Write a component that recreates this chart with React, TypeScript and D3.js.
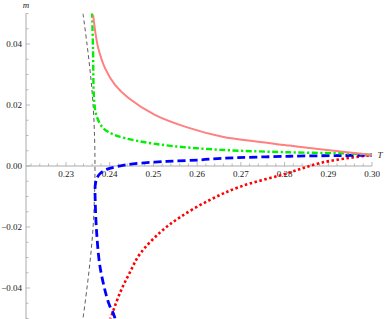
import React from "react";
import * as d3 from "d3";

// values: [T, m]
const solidRed: [number, number][] = [
  [0.23622, 0.0495], [0.23675, 0.0435], [0.23737, 0.0387], [0.23892, 0.0321], [0.24122, 0.0266],
  [0.24429, 0.0223], [0.25044, 0.0167], [0.25811, 0.0125], [0.26578, 0.0096],
  [0.27348, 0.008], [0.28115, 0.0067], [0.28922, 0.0053], [0.3, 0.0036]
];
const dashDotGreen: [number, number][] = [
  [0.23595, 0.0505], [0.23618, 0.0387], [0.23641, 0.0223], [0.23693, 0.0167],
  [0.23846, 0.0125], [0.24114, 0.0102], [0.24647, 0.0082], [0.25402, 0.0066],
  [0.26546, 0.0053], [0.28079, 0.0045], [0.29651, 0.004], [0.3, 0.0036]
];
const dashedBlue: [number, number][] = [
  [0.24121, -0.05], [0.24082, -0.0483], [0.24007, -0.0461], [0.23931, -0.0429],
  [0.23778, -0.033], [0.23702, -0.022], [0.23668, -0.0111], [0.23668, -0.0065],
  [0.23702, -0.0042], [0.23778, -0.0025], [0.23931, -0.0011], [0.2416, -0.0002],
  [0.24533, 0.0007], [0.25304, 0.0015], [0.26066, 0.002], [0.26554, 0.0025],
  [0.28125, 0.0032], [0.29651, 0.0035], [0.3, 0.0036]
];
const dottedRed: [number, number][] = [
  [0.24007, -0.0505], [0.24235, -0.0416], [0.24464, -0.0348], [0.24693, -0.0288],
  [0.25151, -0.0218], [0.25608, -0.0168], [0.26294, -0.0111], [0.26981, -0.0068],
  [0.2801, -0.0026], [0.2888, 0.0012], [0.3, 0.0036]
];
const blackDashed: [number, number][] = [
  [0.23389, 0.05], [0.2348, 0.04], [0.2356, 0.03], [0.2362, 0.02], [0.23652, 0.01],
  [0.23663, 0.0], [0.23652, -0.01], [0.2362, -0.02], [0.2356, -0.03],
  [0.2348, -0.04], [0.23389, -0.05]
];

const xMajor = [0.23, 0.24, 0.25, 0.26, 0.27, 0.28, 0.29, 0.3];
const yMajor = [-0.04, -0.02, 0, 0.02, 0.04];

const W = 388, H = 319;

export default function App() {
  const x = d3.scaleLinear().domain([0.23, 0.3]).range([66, 372]);
  const y = d3.scaleLinear().domain([-0.05, 0.05]).range([318.5, 13.5]);
  const x0 = x.invert(26);

  const line = d3.line<[number, number]>()
    .x(d => x(d[0])).y(d => y(d[1]))
    .curve(d3.curveCatmullRom.alpha(0.5));

  const xMinor = d3.range(0, 40).map(i => 0.222 + i * 0.002).filter(v => v <= 0.3001);
  const yMinor = d3.range(-10, 11).map(i => i * 0.005);
  const isMajor = (v: number, list: number[]) => list.some(t => Math.abs(t - v) < 1e-6);

  const font = "'Liberation Serif', 'Times New Roman', serif";
  const axisColor = "#aaa";

  return (
    <svg width={W} height={H} style={{ position: "absolute", left: 0, top: 0 }}
      fontFamily={font}>
      <defs>
        <clipPath id="plot">
          <rect x={x(x0)} y={y(0.05)} width={x(0.3) - x(x0) + 2} height={y(-0.05) - y(0.05)} />
        </clipPath>
      </defs>
      <rect width={W} height={H} fill="white" />

      {/* axes */}
      <line x1={x(x0)} x2={x(0.3)} y1={y(0)} y2={y(0)} stroke={axisColor} strokeWidth={1} />
      <line x1={x(x0)} x2={x(x0)} y1={y(0.05)} y2={H} stroke={axisColor} strokeWidth={1} />
      {xMinor.map(v => (
        <line key={"xt" + v} x1={x(v)} x2={x(v)} y1={y(0)}
          y2={y(0) - (isMajor(v, xMajor) ? 4 : 2.5)} stroke={axisColor} strokeWidth={0.8} />
      ))}
      {yMinor.map(v => (
        <line key={"yt" + v} x1={x(x0)} x2={x(x0) + (isMajor(v, yMajor) ? 4 : 2.5)}
          y1={y(v)} y2={y(v)} stroke={axisColor} strokeWidth={0.8} />
      ))}
      {xMajor.map(v => (
        <text key={"xl" + v} x={x(v)} y={y(0) + 11} fontSize={9} textAnchor="middle" fill="#222">
          {v.toFixed(2)}
        </text>
      ))}
      {yMajor.map(v => (
        <text key={"yl" + v} x={x(x0) - 4} y={y(v) + 3} fontSize={9} textAnchor="end" fill="#222">
          {v < 0 ? "\u2212" + Math.abs(v).toFixed(2) : v.toFixed(2)}
        </text>
      ))}
      <text x={x(x0)} y={8} fontSize={9} fontStyle="italic" textAnchor="middle" fill="#222">m</text>
      <text x={x(0.3) + 8} y={y(0) - 8} fontSize={9} fontStyle="italic" textAnchor="middle" fill="#222">T</text>

      <g clipPath="url(#plot)" fill="none">
        <path d={line(blackDashed) ?? ""} stroke="#333" strokeWidth={0.8} strokeDasharray="4,3" />
        <path d={line(dottedRed) ?? ""} stroke="#ff0000" strokeWidth={2.6} strokeDasharray="2.5,2.5" />
        <path d={line(dashedBlue) ?? ""} stroke="#0000ff" strokeWidth={2.8} strokeDasharray="8,4" />
        <path d={line(dashDotGreen) ?? ""} stroke="#00ee00" strokeWidth={2.4} strokeDasharray="6,2.5,2.2,2.5" />
        <path d={line(solidRed) ?? ""} stroke="#ff8080" strokeWidth={2} />
      </g>
    </svg>
  );
}
